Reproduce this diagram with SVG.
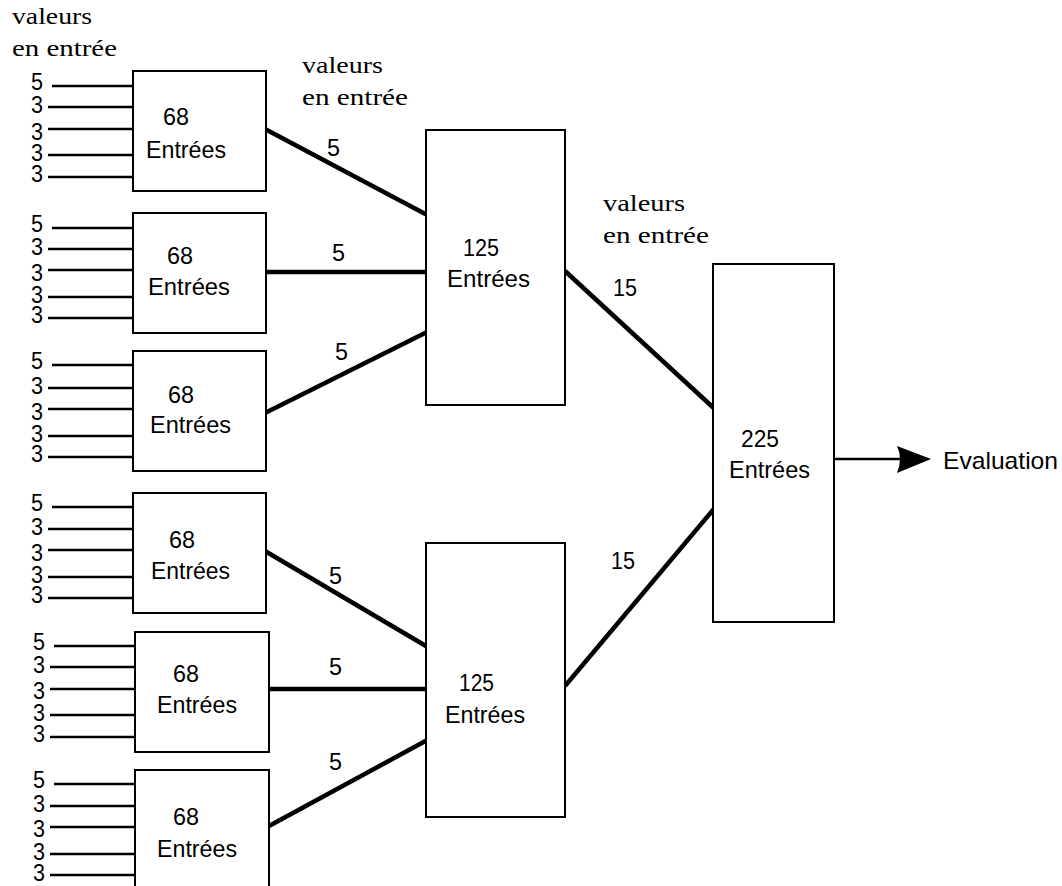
<svg xmlns="http://www.w3.org/2000/svg" width="1062" height="886" viewBox="0 0 1062 886">
<style>
.box{fill:#fff;stroke:#000;stroke-width:2}
.in{stroke:#000;stroke-width:2.5}
.con{stroke:#000;stroke-width:4.5;fill:none}
.lbl{font-family:"Liberation Sans",Arial,sans-serif;font-size:23px;fill:#000}
.cl{font-family:"Liberation Sans",Arial,sans-serif;font-size:24px;fill:#000}
.t{font-family:"Liberation Sans",Arial,sans-serif;font-size:24px;fill:#000}
.s{font-family:"Liberation Serif","Times New Roman",serif;font-size:23px;fill:#000}
</style>
<rect width="1062" height="886" fill="#fff"/>
<g id="notes">
<text class="s" x="12" y="24" textLength="80" lengthAdjust="spacingAndGlyphs">valeurs</text>
<text class="s" x="12" y="56" textLength="105" lengthAdjust="spacingAndGlyphs">en entrée</text>
<text class="s" x="302" y="73" textLength="81" lengthAdjust="spacingAndGlyphs">valeurs</text>
<text class="s" x="302" y="105" textLength="106" lengthAdjust="spacingAndGlyphs">en entrée</text>
<text class="s" x="603" y="211" textLength="82" lengthAdjust="spacingAndGlyphs">valeurs</text>
<text class="s" x="603" y="243" textLength="106" lengthAdjust="spacingAndGlyphs">en entrée</text>
</g>
<g id="connectors">
<line class="con" x1="265" y1="129" x2="431" y2="217"/>
<line class="con" x1="265" y1="272" x2="431" y2="272"/>
<line class="con" x1="265" y1="413" x2="431" y2="330"/>
<line class="con" x1="265" y1="551" x2="431" y2="649"/>
<line class="con" x1="268" y1="689" x2="431" y2="689"/>
<line class="con" x1="269" y1="826" x2="431" y2="738"/>
<line class="con" x1="565" y1="271" x2="718" y2="412"/>
<line class="con" x1="565" y1="686" x2="718" y2="504"/>
<line stroke="#000" stroke-width="2.5" x1="834" y1="459" x2="900" y2="459"/>
<path d="M897,446 Q903,459 897,473 L931,459 Z" fill="#000"/>
<text class="cl" x="327" y="156" textLength="13" lengthAdjust="spacingAndGlyphs">5</text>
<text class="cl" x="332" y="261" textLength="13" lengthAdjust="spacingAndGlyphs">5</text>
<text class="cl" x="335" y="360" textLength="13" lengthAdjust="spacingAndGlyphs">5</text>
<text class="cl" x="329" y="584" textLength="13" lengthAdjust="spacingAndGlyphs">5</text>
<text class="cl" x="329" y="675" textLength="13" lengthAdjust="spacingAndGlyphs">5</text>
<text class="cl" x="329" y="770" textLength="13" lengthAdjust="spacingAndGlyphs">5</text>
<text class="cl" x="613" y="296" textLength="24" lengthAdjust="spacingAndGlyphs">15</text>
<text class="cl" x="611" y="569" textLength="24" lengthAdjust="spacingAndGlyphs">15</text>
<text class="t" x="943" y="469" textLength="115" lengthAdjust="spacingAndGlyphs">Evaluation</text>
</g>
<g id="n1">
<line class="in" x1="52" y1="86" x2="133" y2="86"/><line class="in" x1="48" y1="107" x2="133" y2="107"/><line class="in" x1="48" y1="129" x2="133" y2="129"/><line class="in" x1="48" y1="155" x2="133" y2="155"/><line class="in" x1="48" y1="177" x2="133" y2="177"/>
<text class="lbl" x="31" y="90" textLength="12" lengthAdjust="spacingAndGlyphs">5</text><text class="lbl" x="31" y="113" textLength="12" lengthAdjust="spacingAndGlyphs">3</text><text class="lbl" x="31" y="140" textLength="12" lengthAdjust="spacingAndGlyphs">3</text><text class="lbl" x="31" y="161" textLength="12" lengthAdjust="spacingAndGlyphs">3</text><text class="lbl" x="31" y="182" textLength="12" lengthAdjust="spacingAndGlyphs">3</text>
<rect class="box" x="133" y="71" width="133" height="120"/>
<text class="t" x="163" y="125" textLength="26" lengthAdjust="spacingAndGlyphs">68</text>
<text class="t" x="146" y="158" textLength="80" lengthAdjust="spacingAndGlyphs">Entrées</text>
</g>
<g id="n2">
<line class="in" x1="52" y1="228" x2="133" y2="228"/><line class="in" x1="48" y1="249" x2="133" y2="249"/><line class="in" x1="48" y1="270" x2="133" y2="270"/><line class="in" x1="48" y1="297" x2="133" y2="297"/><line class="in" x1="48" y1="318" x2="133" y2="318"/>
<text class="lbl" x="31" y="232" textLength="12" lengthAdjust="spacingAndGlyphs">5</text><text class="lbl" x="31" y="255" textLength="12" lengthAdjust="spacingAndGlyphs">3</text><text class="lbl" x="31" y="281" textLength="12" lengthAdjust="spacingAndGlyphs">3</text><text class="lbl" x="31" y="303" textLength="12" lengthAdjust="spacingAndGlyphs">3</text><text class="lbl" x="31" y="323" textLength="12" lengthAdjust="spacingAndGlyphs">3</text>
<rect class="box" x="133" y="213" width="133" height="120"/>
<text class="t" x="167" y="264" textLength="26" lengthAdjust="spacingAndGlyphs">68</text>
<text class="t" x="148" y="295" textLength="82" lengthAdjust="spacingAndGlyphs">Entrées</text>
</g>
<g id="n3">
<line class="in" x1="52" y1="365" x2="133" y2="365"/><line class="in" x1="48" y1="388" x2="133" y2="388"/><line class="in" x1="48" y1="409" x2="133" y2="409"/><line class="in" x1="48" y1="436" x2="133" y2="436"/><line class="in" x1="48" y1="457" x2="133" y2="457"/>
<text class="lbl" x="31" y="369" textLength="12" lengthAdjust="spacingAndGlyphs">5</text><text class="lbl" x="31" y="394" textLength="12" lengthAdjust="spacingAndGlyphs">3</text><text class="lbl" x="31" y="420" textLength="12" lengthAdjust="spacingAndGlyphs">3</text><text class="lbl" x="31" y="442" textLength="12" lengthAdjust="spacingAndGlyphs">3</text><text class="lbl" x="31" y="462" textLength="12" lengthAdjust="spacingAndGlyphs">3</text>
<rect class="box" x="133" y="351" width="133" height="120"/>
<text class="t" x="168" y="403" textLength="26" lengthAdjust="spacingAndGlyphs">68</text>
<text class="t" x="150" y="433" textLength="81" lengthAdjust="spacingAndGlyphs">Entrées</text>
</g>
<g id="n4">
<line class="in" x1="52" y1="507" x2="133" y2="507"/><line class="in" x1="48" y1="529" x2="133" y2="529"/><line class="in" x1="48" y1="550" x2="133" y2="550"/><line class="in" x1="48" y1="577" x2="133" y2="577"/><line class="in" x1="48" y1="598" x2="133" y2="598"/>
<text class="lbl" x="31" y="511" textLength="12" lengthAdjust="spacingAndGlyphs">5</text><text class="lbl" x="31" y="535" textLength="12" lengthAdjust="spacingAndGlyphs">3</text><text class="lbl" x="31" y="561" textLength="12" lengthAdjust="spacingAndGlyphs">3</text><text class="lbl" x="31" y="583" textLength="12" lengthAdjust="spacingAndGlyphs">3</text><text class="lbl" x="31" y="603" textLength="12" lengthAdjust="spacingAndGlyphs">3</text>
<rect class="box" x="133" y="493" width="133" height="120"/>
<text class="t" x="169" y="548" textLength="26" lengthAdjust="spacingAndGlyphs">68</text>
<text class="t" x="151" y="579" textLength="79" lengthAdjust="spacingAndGlyphs">Entrées</text>
</g>
<g id="n5">
<line class="in" x1="54" y1="646" x2="135" y2="646"/><line class="in" x1="50" y1="667" x2="135" y2="667"/><line class="in" x1="50" y1="689" x2="135" y2="689"/><line class="in" x1="50" y1="715" x2="135" y2="715"/><line class="in" x1="50" y1="737" x2="135" y2="737"/>
<text class="lbl" x="33" y="650" textLength="12" lengthAdjust="spacingAndGlyphs">5</text><text class="lbl" x="33" y="673" textLength="12" lengthAdjust="spacingAndGlyphs">3</text><text class="lbl" x="33" y="699" textLength="12" lengthAdjust="spacingAndGlyphs">3</text><text class="lbl" x="33" y="721" textLength="12" lengthAdjust="spacingAndGlyphs">3</text><text class="lbl" x="33" y="742" textLength="12" lengthAdjust="spacingAndGlyphs">3</text>
<rect class="box" x="135" y="632" width="134" height="120"/>
<text class="t" x="173" y="682" textLength="26" lengthAdjust="spacingAndGlyphs">68</text>
<text class="t" x="157" y="713" textLength="80" lengthAdjust="spacingAndGlyphs">Entrées</text>
</g>
<g id="n6">
<line class="in" x1="54" y1="784" x2="135" y2="784"/><line class="in" x1="50" y1="806" x2="135" y2="806"/><line class="in" x1="50" y1="827" x2="135" y2="827"/><line class="in" x1="50" y1="854" x2="135" y2="854"/><line class="in" x1="50" y1="875" x2="135" y2="875"/>
<text class="lbl" x="33" y="788" textLength="12" lengthAdjust="spacingAndGlyphs">5</text><text class="lbl" x="33" y="812" textLength="12" lengthAdjust="spacingAndGlyphs">3</text><text class="lbl" x="33" y="837" textLength="12" lengthAdjust="spacingAndGlyphs">3</text><text class="lbl" x="33" y="860" textLength="12" lengthAdjust="spacingAndGlyphs">3</text><text class="lbl" x="33" y="881" textLength="12" lengthAdjust="spacingAndGlyphs">3</text>
<rect class="box" x="135" y="770" width="134" height="130"/>
<text class="t" x="173" y="825" textLength="26" lengthAdjust="spacingAndGlyphs">68</text>
<text class="t" x="157" y="857" textLength="80" lengthAdjust="spacingAndGlyphs">Entrées</text>
</g>
<g id="m1">
<rect class="box" x="426" y="130" width="139" height="275"/>
<text class="t" x="463" y="256" textLength="36" lengthAdjust="spacingAndGlyphs">125</text>
<text class="t" x="447" y="287" textLength="83" lengthAdjust="spacingAndGlyphs">Entrées</text>
</g>
<g id="m2">
<rect class="box" x="426" y="543" width="139" height="274"/>
<text class="t" x="459" y="691" textLength="35" lengthAdjust="spacingAndGlyphs">125</text>
<text class="t" x="445" y="723" textLength="80" lengthAdjust="spacingAndGlyphs">Entrées</text>
</g>
<g id="out">
<rect class="box" x="713" y="264" width="121" height="358"/>
<text class="t" x="741" y="447" textLength="38" lengthAdjust="spacingAndGlyphs">225</text>
<text class="t" x="729" y="478" textLength="81" lengthAdjust="spacingAndGlyphs">Entrées</text>
</g>
</svg>
